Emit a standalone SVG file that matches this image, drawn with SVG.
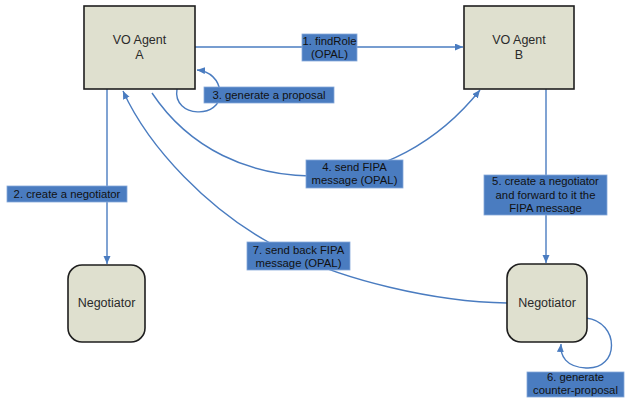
<svg xmlns="http://www.w3.org/2000/svg" width="625" height="401" viewBox="0 0 625 401">
<style>
.node{fill:#dfe0cf;stroke:#1e1e1e;stroke-width:1.6}
.ntext{font-family:"Liberation Sans",Arial,sans-serif;font-size:12.5px;fill:#2a2a2a;text-anchor:middle}
.edge{fill:none;stroke:#4a7cc0;stroke-width:1.4}
.lbl{fill:#4a7cc0;stroke:#86a8da;stroke-width:0.8}
.ltext{font-family:"Liberation Sans",Arial,sans-serif;font-size:11.3px;fill:#111;text-anchor:middle}
</style>
<defs>
<marker id="arr" markerUnits="userSpaceOnUse" markerWidth="9" markerHeight="8" refX="8" refY="3.5" orient="auto">
<path d="M0,0 L8,3.5 L0,7 z" fill="#4a7cc0"/>
</marker>
</defs>
<rect width="625" height="401" fill="#ffffff"/>
<g id="connectors">
<path class="edge" d="M195,47 L463,47" marker-end="url(#arr)"/>
<path class="edge" d="M107,89 L107,264" marker-end="url(#arr)"/>
<path class="edge" d="M177,89 C172,118 222,120 220,92 C219,80 210,71 197,70" marker-end="url(#arr)"/>
<path class="edge" d="M152,93 C190,150 250,175 310,176 C380,177 440,140 480,90" marker-end="url(#arr)"/>
<path class="edge" d="M546,89 L546,263" marker-end="url(#arr)"/>
<path class="edge" d="M586,318 C620,322 620,370 586,368 C566,367 560,356 561,344" marker-end="url(#arr)"/>
<path class="edge" d="M507,303 C440,302 340,282 270,243 C210,210 150,150 123,91" marker-end="url(#arr)"/>
</g>
<g id="labels">
<g id="label1"><rect class="lbl" x="302" y="34" width="55" height="27"/><text class="ltext" x="329.5" y="45">1. findRole</text><text class="ltext" x="329.5" y="58">(OPAL)</text></g>
<g id="label2"><rect class="lbl" x="7" y="186" width="120" height="16"/><text class="ltext" x="67" y="198">2. create a negotiator</text></g>
<g id="label3"><rect class="lbl" x="204" y="87" width="130" height="16"/><text class="ltext" x="269" y="99">3. generate a proposal</text></g>
<g id="label4"><rect class="lbl" x="306" y="160" width="97" height="28"/><text class="ltext" x="354.5" y="171">4. send FIPA</text><text class="ltext" x="354.5" y="184">message (OPAL)</text></g>
<g id="label5"><rect class="lbl" x="484" y="175" width="123" height="40"/><text class="ltext" x="545.5" y="185">5. create a negotiator</text><text class="ltext" x="545.5" y="198.5">and forward to it the</text><text class="ltext" x="545.5" y="212">FIPA message</text></g>
<g id="label6"><rect class="lbl" x="527" y="372" width="97" height="25"/><text class="ltext" x="575.5" y="381">6. generate</text><text class="ltext" x="575.5" y="393.5">counter-proposal</text></g>
<g id="label7"><rect class="lbl" x="247" y="242" width="103" height="28"/><text class="ltext" x="298.5" y="253.5">7. send back FIPA</text><text class="ltext" x="298.5" y="267">message (OPAL)</text></g>
</g>
<g id="agentA"><rect class="node" x="84" y="6" width="111" height="83"/><text class="ntext" x="139.5" y="43.5">VO Agent</text><text class="ntext" x="139.5" y="58.5">A</text></g>
<g id="agentB"><rect class="node" x="464" y="6" width="110" height="83"/><text class="ntext" x="519" y="43.5">VO Agent</text><text class="ntext" x="519" y="58.5">B</text></g>
<g id="negA"><rect class="node" x="68" y="265" width="77" height="77" rx="14"/><text class="ntext" x="106.5" y="306.5">Negotiator</text></g>
<g id="negB"><rect class="node" x="507" y="264" width="80" height="78" rx="14"/><text class="ntext" x="547" y="306.5">Negotiator</text></g>
</svg>
